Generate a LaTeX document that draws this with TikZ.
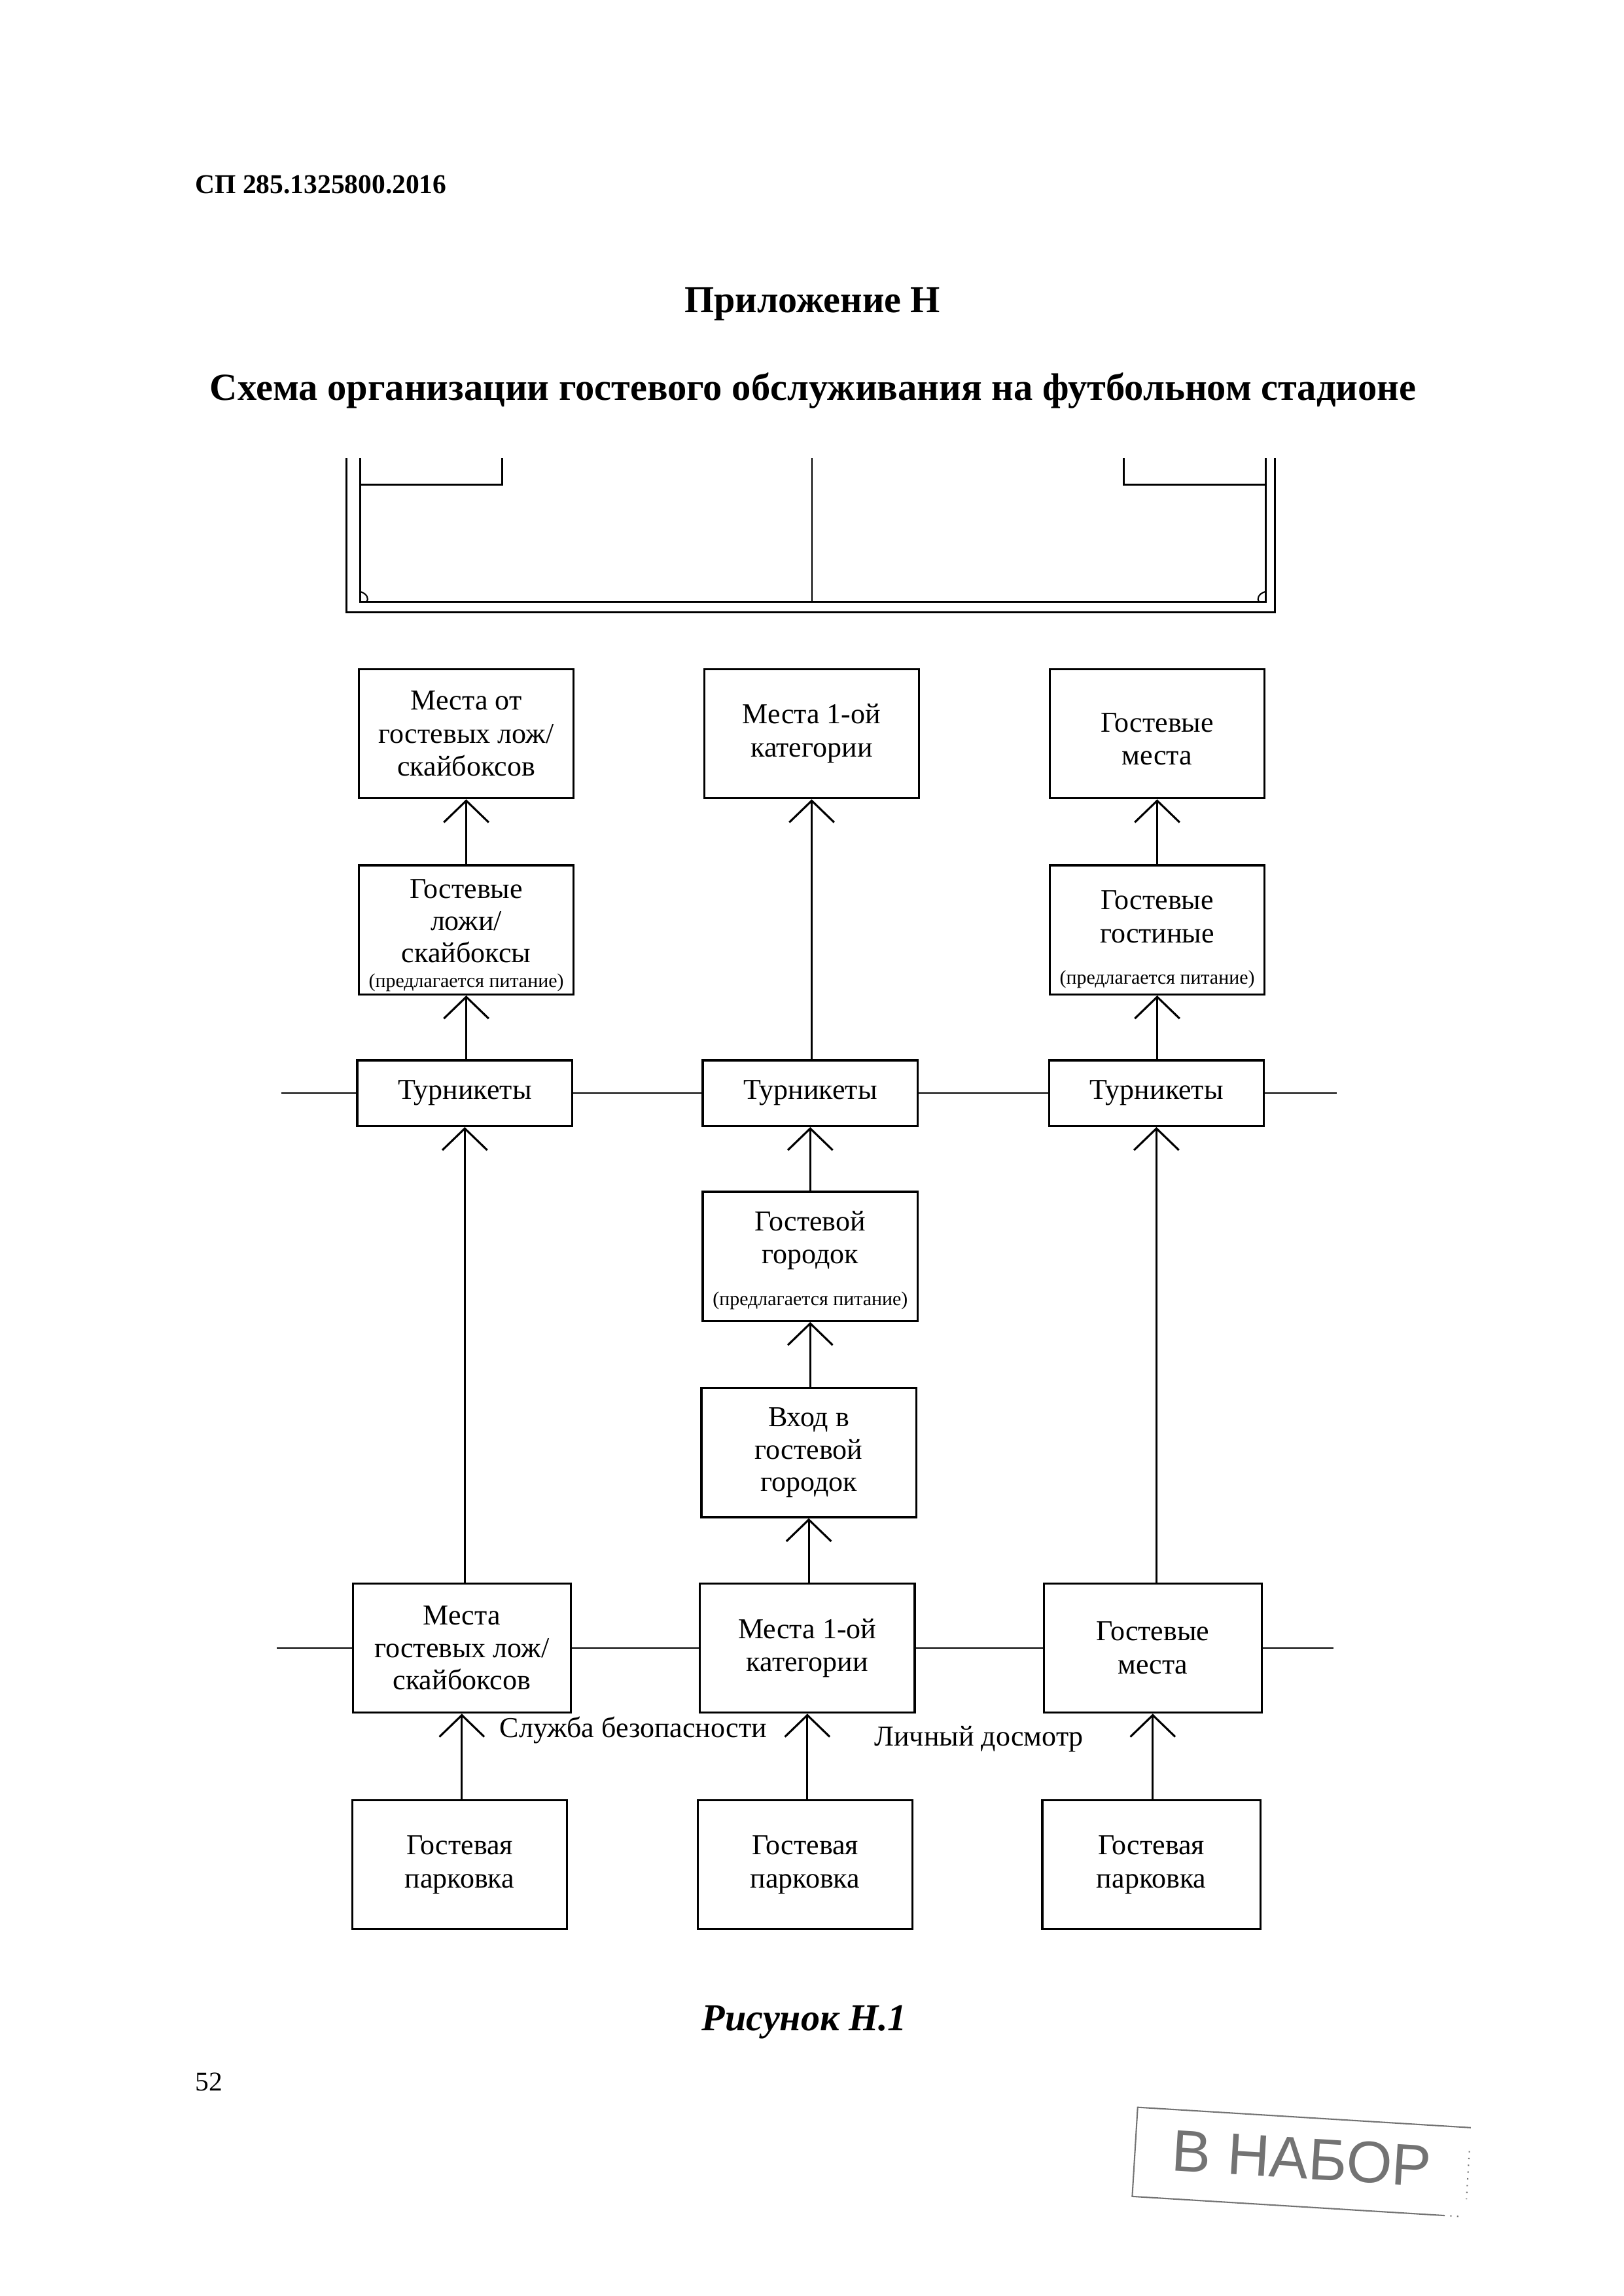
\documentclass[tikz,border=0pt]{standalone}
\usepackage{fontspec}
\setmainfont{Liberation Serif}
\newfontfamily\stampfont{Liberation Sans}
\usetikzlibrary{arrows.meta}
\newcommand\notefont{\fontsize{7.2}{8}\selectfont}
\begin{document}
\begin{tikzpicture}[x=0.18936mm, y=-0.18936mm,
  box/.style={draw, line width=0.8pt, minimum width=27.8mm, minimum height=16.7mm, align=center, inner sep=0pt, font=\fontsize{10.6}{12.2}\selectfont},
  tbox/.style={box, minimum height=8.5mm},
  arr/.style={line width=0.75pt, -{Straight Barb[length=2.8mm, width=5.8mm]}},
  hline/.style={line width=0.5pt},
  stad/.style={line width=0.75pt},
  lab/.style={font=\fontsize{10.6}{12.2}\selectfont, inner sep=0pt}
]
\fill[white] (0,0) rectangle (1109,1568);
\useasboundingbox (0,0) rectangle (1109,1568);

% headings
\node[anchor=west, inner sep=0pt, font=\fontsize{10}{12}\selectfont\bfseries] (code) at (133,126) {СП 285.1325800.2016};
\node[inner sep=0pt, font=\fontsize{14}{16}\selectfont\bfseries] (app) at (555,207.5) {Приложение Н};
\node[inner sep=0pt, font=\fontsize{14.1}{16}\selectfont\bfseries] (title) at (555.5,267) {Схема организации гостевого обслуживания на футбольном стадионе};

% stadium
\draw[stad] (236.5,313) -- (236.5,418) -- (871,418) -- (871,313);
\draw[stad] (246,313) -- (246,411) -- (864.5,411) -- (864.5,313);
\draw[stad] (246,330.8) -- (343,330.8) -- (343,313);
\draw[stad] (767.5,313) -- (767.5,330.8) -- (864.5,330.8);
\draw[line width=0.6pt] (554.7,313) -- (554.7,411);
\draw[line width=0.5pt] (246,404) .. controls (251,405.5) and (252,409) .. (250.5,411);
\draw[line width=0.5pt] (864.5,404) .. controls (859.5,405.5) and (858.5,409) .. (860,411);

% boxes
\node[box] (A1) at (318.5,501) {Места от\\гостевых лож/\\скайбоксов};
\node[box] (A2) at (554.5,501) {Места 1-ой\\категории};
\node[box] (A3) at (790.5,501) {\rule{0pt}{11pt}Гостевые\\места};
\node[box, font=\fontsize{10.6}{11.8}\selectfont] (B1) at (318.5,635) {\rule{0pt}{11pt}Гостевые\\ложи/\\скайбоксы\\[-2.5pt]{\notefont (предлагается питание)}};
\node[box] (B3) at (790.5,635) {\rule{0pt}{14pt}Гостевые\\гостиные\\[3pt]{\notefont (предлагается питание)}};
\node[tbox] (T1) at (317.5,746.5) {Турникеты};
\node[tbox] (T2) at (553.5,746.5) {Турникеты};
\node[tbox] (T3) at (790,746.5) {Турникеты};
\node[box] (D) at (553.5,858) {\rule{0pt}{10pt}Гостевой\\городок\\[3pt]{\notefont (предлагается питание)}};
\node[box, font=\fontsize{10.6}{11.9}\selectfont] (E) at (552.5,992) {Вход в\\гостевой\\городок};
\node[box, minimum width=28.2mm, font=\fontsize{10.6}{11.9}\selectfont] (F1) at (315.5,1125.5) {Места\\гостевых лож/\\скайбоксов};
\node[box] (F2) at (551.5,1125.5) {Места 1-ой\\категории};
\node[box, minimum width=28.2mm] (F3) at (787.5,1125.5) {Гостевые\\места};
\node[box] (G1) at (314,1273.5) {Гостевая\\парковка};
\node[box] (G2) at (550,1273.5) {Гостевая\\парковка};
\node[box, minimum width=28.2mm] (G3) at (786.5,1273.5) {Гостевая\\парковка};

% arrows
\draw[arr] (A1.south |- B1.north) -- (A1.south);
\draw[arr] (B1.south |- T1.north) -- (B1.south);
\draw[arr] (T1.south |- F1.north) -- (T1.south);
\draw[arr] (F1.south |- G1.north) -- (F1.south);
\draw[arr] (A2.south |- T2.north) -- (A2.south);
\draw[arr] (T2.south |- D.north) -- (T2.south);
\draw[arr] (D.south |- E.north) -- (D.south);
\draw[arr] (E.south |- F2.north) -- (E.south);
\draw[arr] (F2.south |- G2.north) -- (F2.south);
\draw[arr] (A3.south |- B3.north) -- (A3.south);
\draw[arr] (B3.south |- T3.north) -- (B3.south);
\draw[arr] (T3.south |- F3.north) -- (T3.south);
\draw[arr] (F3.south |- G3.north) -- (F3.south);

% horizontal lines
\coordinate (tl) at (192,746.5);
\coordinate (tr) at (913,746.5);
\draw[hline] (tl) -- (T1.west) (T1.east) -- (T2.west) (T2.east) -- (T3.west) (T3.east) -- (tr);
\coordinate (fl) at (189,1125.5);
\coordinate (fr) at (911,1125.5);
\draw[hline] (fl) -- (F1.west) (F1.east) -- (F2.west) (F2.east) -- (F3.west) (F3.east) -- (fr);

% labels
\node[lab, anchor=west] (sb) at (341,1181.5) {Служба безопасности};
\node[lab, anchor=west] (ld) at (597,1187.5) {Личный досмотр};

% caption and page number
\node[inner sep=0pt, font=\fontsize{14}{16}\selectfont\bfseries\itshape] (cap) at (549.5,1381) {Рисунок Н.1};
\node[anchor=west, inner sep=0pt, font=\fontsize{10}{12}\selectfont] (pg) at (133,1422) {52};

% stamp
\begin{scope}[rotate around={-3.5:(889,1478)}, black!55, line width=0.5pt]
  \draw (988,1507) -- (775,1507) -- (775,1446) -- (1003,1446);
  \draw[dotted] (1003,1462) -- (1003,1495);
  \draw[dotted] (988,1507) -- (1000,1507);
  \node[inner sep=0pt, rotate=-3.5, font=\stampfont\fontsize{21.6}{24}\selectfont, text=black!55] (stamp) at (889,1474) {В НАБОР};
\end{scope}
\end{tikzpicture}
\end{document}
